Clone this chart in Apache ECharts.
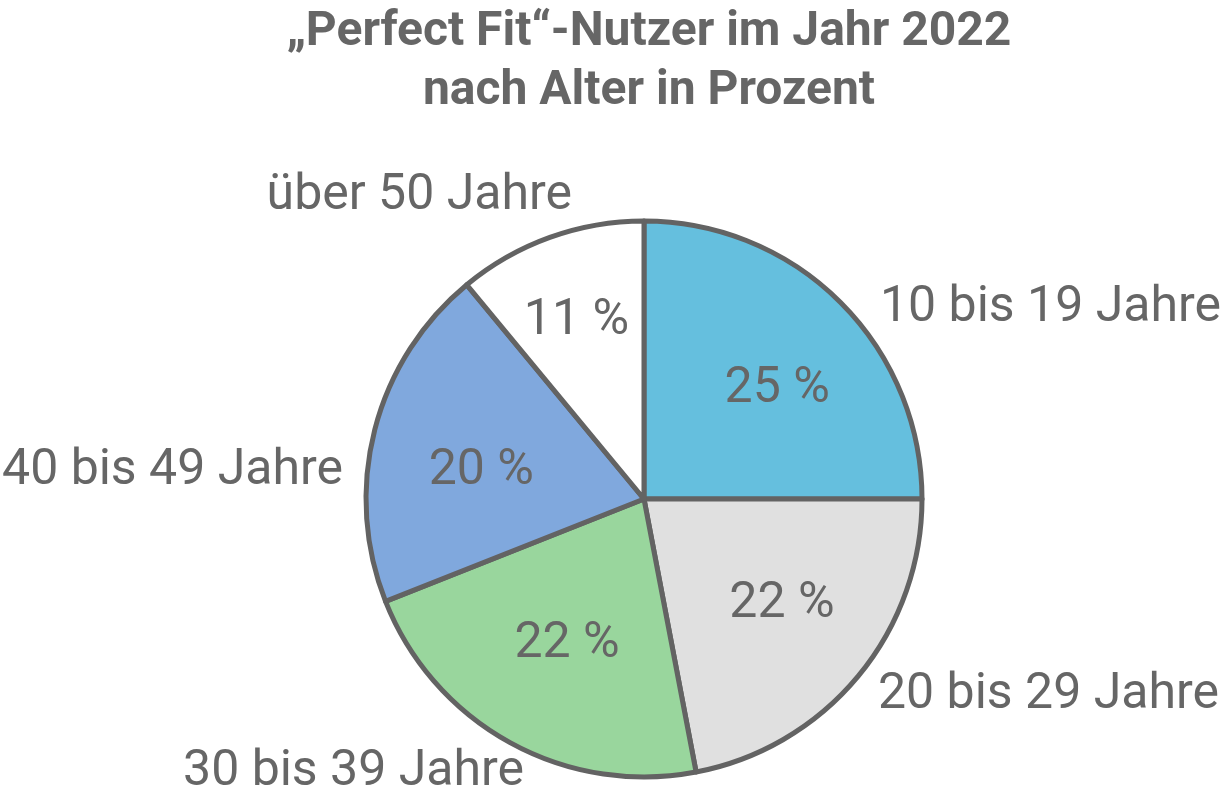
<!DOCTYPE html>
<html><head><meta charset="utf-8">
<script src="https://cdn.jsdelivr.net/npm/echarts@6/dist/echarts.min.js"></script>
<style>html,body{margin:0;padding:0;background:#fff}#c{width:1223px;height:805px}</style>
</head><body><div id="c"></div>
<script>
const titleLines = ['„Perfect Fit“-Nutzer im Jahr 2022', 'nach Alter in Prozent'];
const categories = ['10 bis 19 Jahre', '20 bis 29 Jahre', '30 bis 39 Jahre', '40 bis 49 Jahre', 'über 50 Jahre'];
const values = [25, 22, 22, 20, 11];
const colors = ['#65bfde', '#e0e0e0', '#99d69d', '#80a8dd', '#ffffff'];
// label anchor layout (pixels) for outside category labels
const labelAnchors = [
  {x: 880, y: 308, align: 'left'},
  {x: 878, y: 695, align: 'left'},
  {x: 524, y: 772, align: 'right'},
  {x: 343, y: 471, align: 'right'},
  {x: 572, y: 196, align: 'right'}
];
// small nudges for the percentage labels (pixels)
const innerNudges = [[13, 11], [7, -3], [5, -3], [2, 15], [-10, -18]];
const TXT = '#666666';
const chart = echarts.init(document.getElementById('c'), null, {renderer: 'canvas'});
const data = categories.map((n, i) => ({name: n, value: values[i], itemStyle: {color: colors[i]}}));
chart.setOption({
  animation: false,
  backgroundColor: '#ffffff',
  title: {
    text: titleLines.join('\n'),
    left: 644, textAlign: 'center', top: -2,
    textStyle: {fontFamily: 'Roboto', fontWeight: 'bold', fontSize: 48, lineHeight: 59, color: TXT}
  },
  series: [
    {
      type: 'pie', center: [644, 499], radius: [0, 278], startAngle: 90, clockwise: true,
      silent: true,
      itemStyle: {borderColor: '#636363', borderWidth: 5},
      label: {show: true, position: 'outside', formatter: '{b}', fontFamily: 'Roboto', fontSize: 50, color: TXT, overflow: 'none', width: 400},
      labelLine: {show: false},
      labelLayout: function (p) {
        const a = labelAnchors[p.dataIndex];
        return {x: a.x, y: a.y, align: a.align, verticalAlign: 'middle'};
      },
      data: data
    },
    {
      type: 'pie', center: [644, 499], radius: [0, 334], startAngle: 90, clockwise: true,
      silent: true, z: 5,
      itemStyle: {color: 'rgba(0,0,0,0)', borderWidth: 0},
      label: {show: true, position: 'inside', formatter: '{c} %', fontFamily: 'Roboto', fontSize: 50, color: TXT},
      labelLine: {show: false},
      labelLayout: function (p) {
        const n = innerNudges[p.dataIndex];
        return {dx: n[0], dy: n[1]};
      },
      data: categories.map((n, i) => ({name: n, value: values[i]}))
    }
  ]
});
</script></body></html>
